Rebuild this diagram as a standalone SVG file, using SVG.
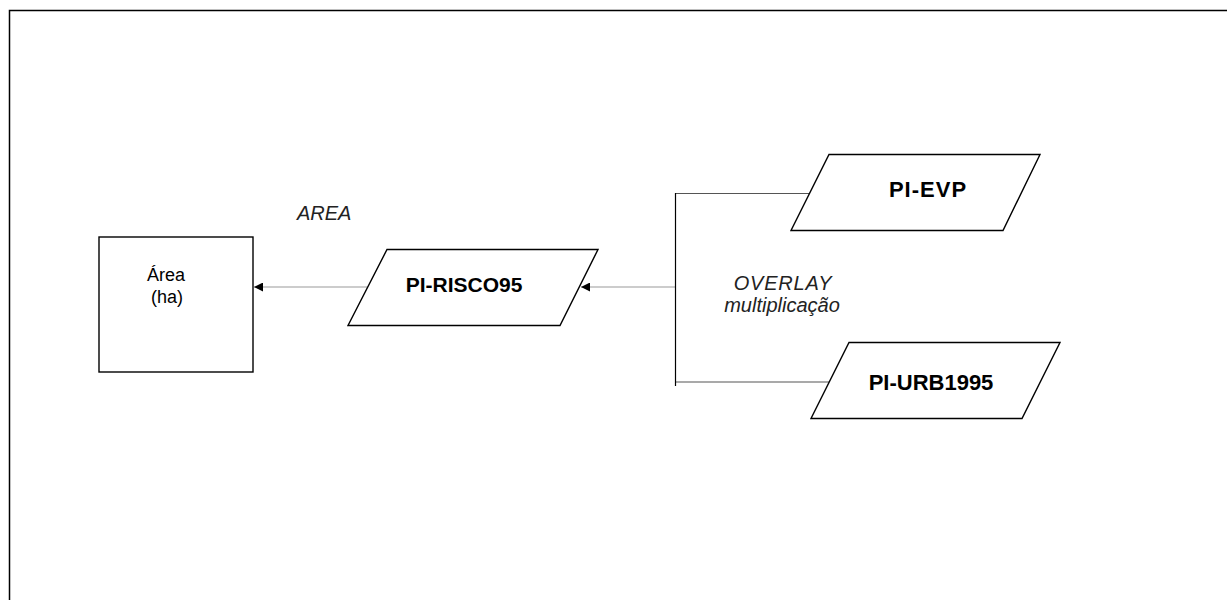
<svg xmlns="http://www.w3.org/2000/svg" width="1227" height="600" viewBox="0 0 1227 600">
<defs>
<style>
.shape{fill:#fff;stroke:#000;stroke-width:1.4}
.lbl{font-family:"Liberation Sans",Arial,sans-serif;fill:#000}
.bold{font-weight:bold;font-size:21px;text-anchor:middle}
.big{font-size:22px}
.it{font-style:italic;font-size:20px;fill:#222}
.conn{stroke:#999;stroke-width:1.2;fill:none}
.conn2{stroke:#555;stroke-width:1.2;fill:none}
</style>
<marker id="arr" viewBox="0 0 10 10" refX="10" refY="5" markerWidth="10" markerHeight="9" markerUnits="userSpaceOnUse" orient="auto">
<path d="M0,0 L10,5 L0,10 z" fill="#000"/>
</marker>
</defs>
<rect width="1227" height="600" fill="#fff"/>
<rect id="frame" x="9.5" y="10.5" width="1240" height="620" fill="none" stroke="#000" stroke-width="1.5"/>

<g id="connectors">
<line class="conn" x1="675" y1="287" x2="581" y2="287" marker-end="url(#arr)"/>
<line class="conn" x1="367" y1="287" x2="254" y2="287" marker-end="url(#arr)"/>
<line class="conn2" x1="675" y1="193.5" x2="811" y2="193.5"/>
<line class="conn2" x1="675" y1="382" x2="829" y2="382"/>
<line x1="675.5" y1="193" x2="675.5" y2="386" stroke="#000" stroke-width="1.2"/>
</g>

<g id="area-box">
<rect class="shape" x="99" y="237" width="154" height="135"/>
<text class="lbl" x="166" y="281" font-size="18" text-anchor="middle">Área</text>
<text class="lbl" x="167" y="303" font-size="18" text-anchor="middle">(ha)</text>
</g>

<g id="pi-risco95">
<polygon class="shape" points="387,249.5 598,249.5 560,325.5 348,325.5"/>
<text class="lbl bold" x="464" y="292">PI-RISCO95</text>
</g>

<g id="pi-evp">
<polygon class="shape" points="829,154.5 1040,154.5 1003,230.5 791,230.5"/>
<text class="lbl bold big" x="928" y="197" letter-spacing="1">PI-EVP</text>
</g>

<g id="pi-urb1995">
<polygon class="shape" points="849,342.5 1060,342.5 1022,418.5 811,418.5"/>
<text class="lbl bold big" x="931" y="390">PI-URB1995</text>
</g>

<g id="label-area">
<text class="lbl it" x="297" y="220">AREA</text>
</g>

<g id="label-overlay">
<text class="lbl it" x="783" y="290" text-anchor="middle" letter-spacing="0.8">OVERLAY</text>
<text class="lbl it" x="782" y="312" text-anchor="middle">multiplicação</text>
</g>
</svg>
